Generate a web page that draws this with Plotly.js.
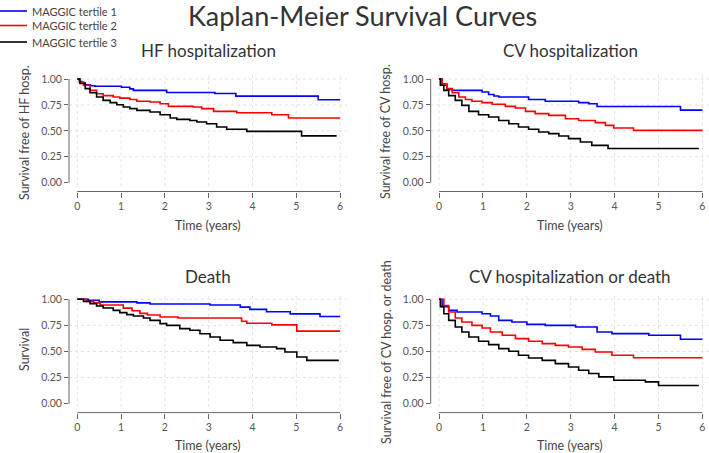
<!DOCTYPE html>
<html>
<head>
<meta charset="utf-8">
<script src="https://cdn.plot.ly/plotly-3.0.1.min.js"></script>
<style>
html,body{margin:0;padding:0;background:#fff;}
#chart{width:709px;height:453px;}
</style>
</head>
<body>
<div id="chart"></div>
<script>
// ---------- data ----------
const seriesNames = ['MAGGIC tertile 1', 'MAGGIC tertile 2', 'MAGGIC tertile 3'];
const seriesColors = ['#0000ff', '#ff0000', '#000000'];
const panelTitles = ['HF hospitalization', 'CV hospitalization', 'Death', 'CV hospitalization or death'];
const yTitles = ['Survival free of HF hosp.', 'Survival free of CV hosp.', 'Survival', 'Survival free of CV hosp. or death'];
const xTitle = 'Time (years)';
const mainTitle = 'Kaplan-Meier Survival Curves';
const tickX = [0, 1, 2, 3, 4, 5, 6];
const tickY = [0, 0.25, 0.5, 0.75, 1];
const tickYText = ['0.00', '0.25', '0.50', '0.75', '1.00'];

// HF hospitalization
const hf1T = [0,0.05,0.1,0.18,0.3,0.4,1.01,1.2,1.28,2.04,3.14,3.62,5.5,6.0];
const hf1S = [1,0.975,0.96,0.945,0.935,0.93,0.92,0.905,0.89,0.87,0.86,0.835,0.80,0.80];
const hf2T = [0,0.05,0.14,0.29,0.44,0.59,0.82,0.97,1.2,1.36,1.66,1.89,2.08,2.65,2.84,3.11,3.64,4.44,4.82,6.0];
const hf2S = [1,0.97,0.94,0.89,0.858,0.84,0.826,0.816,0.803,0.785,0.778,0.762,0.736,0.73,0.714,0.688,0.675,0.656,0.624,0.624];
const hf3T = [0,0.06,0.18,0.29,0.44,0.59,0.75,0.90,1.05,1.20,1.36,1.66,1.89,2.12,2.27,2.57,2.73,2.95,3.18,3.41,3.87,5.12,5.92];
const hf3S = [1,0.957,0.907,0.868,0.826,0.794,0.772,0.752,0.73,0.714,0.698,0.682,0.656,0.624,0.611,0.60,0.585,0.569,0.537,0.515,0.495,0.452,0.452];

// CV hospitalization
const cv1T = [0,0.07,0.18,0.3,0.98,1.13,1.25,1.36,2.04,2.42,3.18,3.41,3.6,5.5,6.0];
const cv1S = [1,0.94,0.90,0.89,0.875,0.85,0.836,0.826,0.803,0.785,0.772,0.762,0.735,0.70,0.70];
const cv2T = [0,0.07,0.18,0.30,0.45,0.60,0.75,0.98,1.21,1.51,1.74,1.97,2.19,2.50,2.88,3.18,3.56,3.79,3.98,4.43,6.0];
const cv2S = [1,0.955,0.907,0.868,0.826,0.803,0.785,0.772,0.756,0.736,0.72,0.688,0.666,0.649,0.617,0.60,0.579,0.553,0.527,0.505,0.505];
const cv3T = [0,0.03,0.11,0.22,0.37,0.52,0.68,0.90,1.13,1.36,1.59,1.81,2.04,2.27,2.50,2.73,2.95,3.22,3.48,3.85,5.92];
const cv3S = [1,0.94,0.89,0.84,0.794,0.746,0.688,0.656,0.633,0.60,0.569,0.537,0.515,0.489,0.473,0.45,0.425,0.392,0.36,0.33,0.33];

// Death
const d1T = [0,0.25,0.5,1.36,1.66,3.03,3.72,3.94,4.32,4.86,5.54,6.0];
const d1S = [1,0.99,0.975,0.965,0.955,0.945,0.925,0.903,0.88,0.86,0.835,0.835];
const d2T = [0,0.21,0.37,0.52,1.05,1.25,1.43,1.6,1.89,2.3,3.75,3.87,4.44,5.01,6.0];
const d2S = [1,0.98,0.965,0.945,0.915,0.89,0.865,0.85,0.83,0.82,0.79,0.77,0.755,0.695,0.695];
const d3T = [0,0.14,0.29,0.44,0.59,0.82,0.97,1.13,1.28,1.51,1.66,1.89,2.04,2.34,2.57,2.80,3.03,3.26,3.56,3.87,4.17,4.55,4.74,5.01,5.24,5.97];
const d3S = [1,0.98,0.958,0.936,0.917,0.894,0.872,0.853,0.84,0.82,0.798,0.767,0.75,0.719,0.703,0.67,0.639,0.607,0.585,0.559,0.543,0.527,0.495,0.447,0.415,0.415];

// CV hospitalization or death
const c1T = [0,0.07,0.22,0.41,0.98,1.17,1.36,1.66,2.0,2.42,3.11,3.6,3.94,4.78,5.5,6.0];
const c1S = [1,0.93,0.894,0.878,0.862,0.84,0.798,0.783,0.76,0.75,0.735,0.687,0.671,0.655,0.617,0.617];
const c2T = [0,0.11,0.22,0.37,0.52,0.75,0.98,1.17,1.44,1.74,2.04,2.35,2.65,2.95,3.26,3.56,3.94,4.43,6.0];
const c2S = [1,0.94,0.878,0.82,0.783,0.75,0.725,0.687,0.655,0.623,0.598,0.575,0.559,0.543,0.52,0.495,0.464,0.44,0.44];
const c3T = [0,0.03,0.11,0.22,0.37,0.52,0.68,0.90,1.13,1.36,1.59,1.81,2.04,2.35,2.65,2.95,3.18,3.41,3.64,3.98,4.70,5.0,5.92];
const c3S = [1,0.93,0.862,0.798,0.735,0.687,0.639,0.598,0.566,0.527,0.502,0.464,0.438,0.415,0.384,0.352,0.32,0.289,0.257,0.225,0.209,0.175,0.175];

const panelData = [
  [[hf1T, hf1S], [hf2T, hf2S], [hf3T, hf3S]],
  [[cv1T, cv1S], [cv2T, cv2S], [cv3T, cv3S]],
  [[d1T, d1S], [d2T, d2S], [d3T, d3S]],
  [[c1T, c1S], [c2T, c2S], [c3T, c3S]]
];

// ---------- layout geometry (pixels) ----------
const W = 709, H = 453;
const px = v => v / W;
const py = v => 1 - v / H;
const FONT = 'Lato, "Open Sans", sans-serif';
const panelBox = [
  {x0: 69.0, x1: 346.7, y0: 72.8, y1: 191.5, cx: 208, titleY: 50, xtY: 225, ytX: 25, ytY: 133},
  {x0: 430.7, x1: 709, y0: 72.8, y1: 191.5, cx: 570, titleY: 50, xtY: 225, ytX: 386, ytY: 132},
  {x0: 69.0, x1: 346.7, y0: 293.0, y1: 412.6, cx: 208, titleY: 276, xtY: 445, ytX: 24, ytY: 350},
  {x0: 430.7, x1: 709, y0: 293.0, y1: 412.6, cx: 570, titleY: 276, xtY: 445, ytX: 386, ytY: 352}
];
const xRange = [-0.19, 6.15];
const yRange = [-0.085, 1.06];

const traces = [];
const layout = {
  width: W, height: H,
  margin: {l: 0, r: 0, t: 0, b: 0},
  paper_bgcolor: '#ffffff', plot_bgcolor: '#ffffff',
  showlegend: false,
  font: {family: FONT, color: '#444'},
  shapes: [], annotations: []
};

panelBox.forEach((b, i) => {
  const n = i + 1;
  const xa = n === 1 ? 'x' : 'x' + n;
  const ya = n === 1 ? 'y' : 'y' + n;
  layout['xaxis' + (n === 1 ? '' : n)] = {
    domain: [px(b.x0), px(b.x1)], anchor: ya, range: xRange,
    tickmode: 'array', tickvals: tickX, ticktext: tickX.map(String),
    ticks: 'outside', ticklen: 5, tickwidth: 1, tickcolor: '#666',
    showline: false, showgrid: false, zeroline: false,
    tickfont: {family: FONT, size: 10.5, color: '#555'}, fixedrange: true
  };
  layout['yaxis' + (n === 1 ? '' : n)] = {
    domain: [py(b.y1), py(b.y0)], anchor: xa, range: yRange,
    tickmode: 'array', tickvals: tickY, ticktext: tickYText,
    ticks: 'outside', ticklen: 4, tickwidth: 1, tickcolor: '#666',
    showline: false, showgrid: false, zeroline: false,
    tickfont: {family: FONT, size: 10.5, color: '#555'}, fixedrange: true
  };
  // grid (dotted)
  tickX.forEach(v => layout.shapes.push({type: 'line', layer: 'below', xref: xa, yref: ya,
    x0: v, x1: v, y0: -0.03, y1: yRange[1], line: {color: '#e2e2e2', width: 1, dash: 'dot'}}));
  tickY.filter(v => v > 0).forEach(v => layout.shapes.push({type: 'line', layer: 'below', xref: xa + ' domain', yref: ya,
    x0: 0, x1: 1, y0: v, y1: v, line: {color: '#e2e2e2', width: 1, dash: 'dot'}}));
  // axis lines spanning first to last tick
  layout.shapes.push({type: 'line', xref: xa + ' domain', yref: ya, x0: 0, x1: 0,
    y0: tickY[0], y1: tickY[tickY.length - 1], line: {color: '#666', width: 1}});
  layout.shapes.push({type: 'line', xref: xa, yref: ya + ' domain', x0: tickX[0], x1: tickX[tickX.length - 1],
    y0: 0, y1: 0, line: {color: '#666', width: 1}});
  // curves
  panelData[i].forEach((d, k) => traces.push({
    type: 'scatter', mode: 'lines', x: d[0], y: d[1], xaxis: xa, yaxis: ya,
    name: seriesNames[k], line: {color: seriesColors[k], width: 1.6, shape: 'hv'},
    hoverinfo: 'skip'
  }));
  // texts
  layout.annotations.push({xref: 'paper', yref: 'paper', x: px(b.cx), y: py(b.titleY), text: panelTitles[i],
    showarrow: false, xanchor: 'center', yanchor: 'middle', font: {family: FONT, size: 17, color: '#333'}});
  layout.annotations.push({xref: 'paper', yref: 'paper', x: px(b.cx), y: py(b.xtY), text: xTitle,
    showarrow: false, xanchor: 'center', yanchor: 'middle', font: {family: FONT, size: 12.5, color: '#444'}});
  layout.annotations.push({xref: 'paper', yref: 'paper', x: px(b.ytX), y: py(b.ytY), text: yTitles[i],
    showarrow: false, textangle: -90, xanchor: 'center', yanchor: 'middle', font: {family: FONT, size: 12.5, color: '#444'}});
});

// main title
layout.annotations.push({xref: 'paper', yref: 'paper', x: px(362), y: py(16), text: mainTitle,
  showarrow: false, xanchor: 'center', yanchor: 'middle', font: {family: FONT, size: 27, color: '#333'}});

// legend (manual)
const legY = [11, 25.5, 42];
seriesNames.forEach((nm, k) => {
  layout.shapes.push({type: 'line', xref: 'paper', yref: 'paper', x0: px(0), x1: px(27),
    y0: py(legY[k]), y1: py(legY[k]), line: {color: seriesColors[k], width: 1.6}});
  layout.annotations.push({xref: 'paper', yref: 'paper', x: px(30), y: py(legY[k]), text: nm,
    showarrow: false, xanchor: 'left', yanchor: 'middle', font: {family: FONT, size: 11, color: '#444'}});
});

Plotly.newPlot('chart', traces, layout, {staticPlot: true, displayModeBar: false});
</script>
</body>
</html>
